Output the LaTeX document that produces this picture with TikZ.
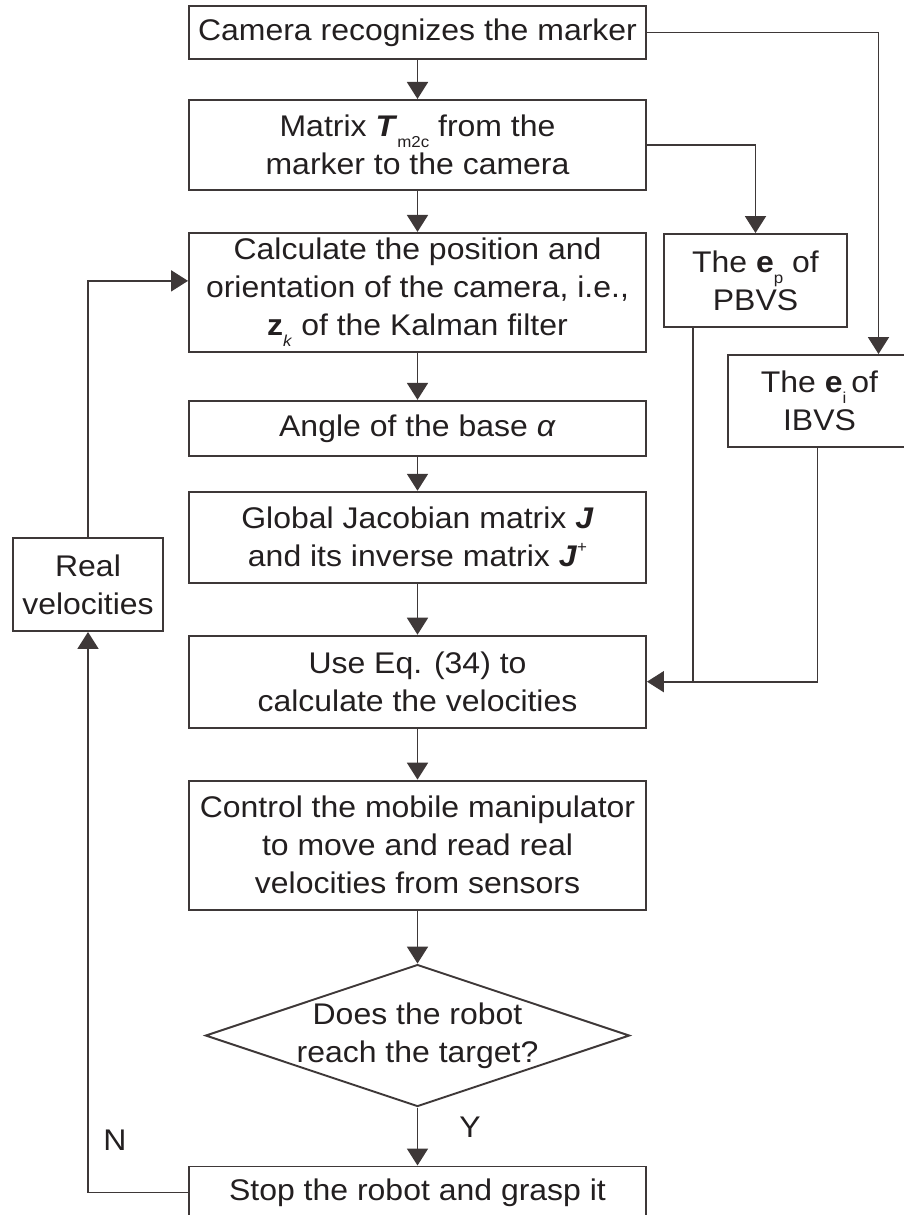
\documentclass[tikz,border=0pt]{standalone}
\usepackage{fontspec}
\setmainfont{Liberation Sans}[FakeStretch=1.07]
\usepackage{tikz}
\usetikzlibrary{arrows.meta,positioning,shapes.geometric}
\definecolor{linec}{RGB}{62,56,56}
\definecolor{textc}{RGB}{35,31,32}
\newcommand{\subx}[1]{\raisebox{-0.7ex}{\fontsize{9}{9}\selectfont #1}}
\newcommand{\supx}[1]{\raisebox{0.9ex}{\fontsize{9}{9}\selectfont #1}}

\begin{document}
\begin{tikzpicture}[
node distance = 8mm,
box/.style = {draw=linec, line width=1.1pt, text=textc,
              minimum width=9.14cm, align=center, inner sep=1pt,
              font=\fontsize{17}{21.6}\selectfont},
sidebox/.style = {box, minimum width=#1},
decision/.style = {box, diamond, aspect=2.99, minimum width=8.48cm,
                   minimum height=2.84cm, inner sep=-0.15cm},
arr/.style = {draw=linec, line width=1.1pt,
              -{Triangle[length=0.34cm, width=0.42cm]}},
lab/.style = {text=textc, font=\fontsize{17}{21.6}\selectfont}
                ]
\useasboundingbox (0,0) rectangle (18.08,-24.3);

\node (s1) [box, minimum height=1.06cm] at (8.35,-0.65) {Camera recognizes the marker};
\node (s2) [box, minimum height=1.8cm, below=0.78cm of s1]
      {Matrix \textbf{\textit{T}}\subx{m2c} from the\\marker to the camera};
\node (s3) [box, minimum height=2.38cm, below=0.82cm of s2]
      {Calculate the position and\\orientation of the camera, i.e.,\\\textbf{z}\subx{\textit{k}} of the Kalman filter};
\node (s4) [box, minimum height=1.1cm, below=0.94cm of s3] {Angle of the base \textit{α}};
\node (s5) [box, minimum height=1.82cm, below=0.68cm of s4]
      {Global Jacobian matrix \textbf{\textit{J}}\\and its inverse matrix \textbf{\textit{J}}\supx{+}};
\node (s6) [box, minimum height=1.84cm, below=1.02cm of s5]
      {Use Eq. (34) to\\calculate the velocities};
\node (s7) [box, minimum height=2.58cm, below=1.02cm of s6]
      {Control the mobile manipulator\\to move and read real\\velocities from sensors};
\node (dec) [decision, below=1.06cm of s7] {Does the robot\\reach the target?};
\node (s8) [box, minimum height=1.04cm, below=1.16cm of dec] {Stop the robot and grasp it};

\node (pb) [sidebox=3.66cm, minimum height=1.86cm] at (15.11,-5.61)
      {The \textbf{e}\subx{p} of\\PBVS};
\node (ib) [sidebox=3.66cm, minimum height=1.84cm] at (16.39,-8.02)
      {The \textbf{e}\subx{i}\,of\\IBVS};
\node (rv) [sidebox=3.0cm, minimum height=1.86cm] at (1.76,-11.69)
      {Real\\velocities};

\node (ylab) [lab] at (9.4,-22.54) {Y};
\node (nlab) [lab] at (2.3,-22.8) {N};

%% main column
\draw [arr] (s1) -- (s2);
\draw [arr] (s2) -- (s3);
\draw [arr] (s3) -- (s4);
\draw [arr] (s4) -- (s5);
\draw [arr] (s5) -- (s6);
\draw [arr] (s6) -- (s7);
\draw [arr] (s7) -- (dec);
\draw [arr] (dec) -- (s8);
%% errors
\draw [arr] (s1.east) -| ([xshift=1.18cm]ib.north);
\draw [arr] (s2.east) -| (pb.north);
\draw [arr] ([xshift=-0.04cm]ib.south) |- (s6.east);
\draw [draw=linec, line width=1.1pt] ([xshift=-1.25cm]pb.south) -- ([xshift=-1.25cm]pb.south |- s6.east);
%% feedback
\draw [arr] (s8.west) -| (rv.south);
\draw [arr] (rv.north) |- ([yshift=0.23cm]s3.west);
\end{tikzpicture}
\end{document}
